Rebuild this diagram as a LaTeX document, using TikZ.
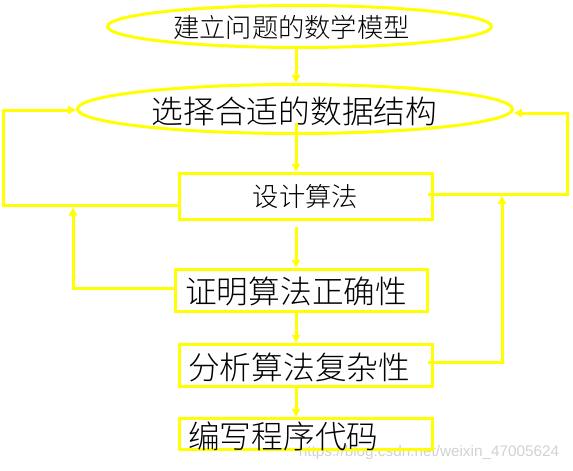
\documentclass[tikz,border=0pt]{standalone}
\usepackage{fontspec}
\newfontfamily\cjk[UprightFont={* Light}]{Noto Sans CJK SC}
\newfontfamily\wmfont{Liberation Sans}
\usetikzlibrary{arrows.meta,shapes.geometric}
\definecolor{ylw}{RGB}{255,255,0}
\definecolor{wmgray}{RGB}{210,210,210}
\begin{document}
\begin{tikzpicture}[x=1pt,y=-1pt,
  oval/.style={ellipse, draw=ylw, line width=3pt, inner sep=0pt},
  stepbox/.style={rectangle, draw=ylw, line width=3.5pt, inner sep=0pt, minimum width=253pt},
  lbl/.style={inner sep=0pt, text=black},
  big/.style={font=\cjk\fontsize{31.7}{32}\selectfont},
  small/.style={font=\cjk\fontsize{26.3}{27}\selectfont},
  conn/.style={draw=ylw, line width=3pt},
  arr/.style={draw=ylw, line width=3pt, -{Triangle[length=8pt,width=8pt]}}]
\useasboundingbox (0,0) rectangle (573,471);
\fill[white] (0,0) rectangle (573,471);

% watermark
\node[inner sep=0pt, text=wmgray, font=\wmfont\fontsize{15.3}{16}\selectfont] (wm) at (429,453) {https://blog.csdn.net/weixin\_47005624};

% shapes
\node[oval, minimum width=384pt, minimum height=42pt] (e1) at (299.5,26.5) {};
\node[oval, minimum width=435pt, minimum height=49pt] (e2) at (295,109) {};
\node[stepbox, minimum height=46pt] (b1) at (306,196.5) {};
\node[stepbox, minimum width=252pt, minimum height=42pt] (b2) at (301.5,290.5) {};
\node[stepbox, minimum height=42pt] (b3) at (306,365.5) {};
\node[stepbox, minimum height=31pt] (b4) at (306,434) {};

% texts
\node[lbl, small] (t1) at (291.5,27.5) {建立问题的数学模型};
\node[lbl, big] (t2) at (294.5,111) {选择合适的数据结构};
\node[lbl, small] (t3) at (305.5,197) {设计算法};
\node[lbl, big, anchor=west] (t4) at (185,291) {证明算法正确性};
\node[lbl, big, anchor=west] (t5) at (188,367) {分析算法复杂性};
\node[lbl, big, anchor=west] (t6) at (188,436) {编写程序代码};

% helper coordinates
\coordinate (ax) at (296,0);
\coordinate (lx) at (3,0);
\coordinate (rx) at (567,0);
\coordinate (lx2) at (73,0);
\coordinate (rx2) at (502,0);

% main down arrows
\draw[arr] (ax |- e1.south) -- (ax |- e2.north);
\draw[arr] (296,123) -- (ax |- b1.north);
\draw[arr] (296,227) -- (ax |- b2.north);
\draw[arr] (ax |- b2.south) -- (ax |- b3.north);
\draw[arr] (ax |- b3.south) -- (ax |- b4.north);

% loops back to e2
\draw[arr] (b1.west |- 0,205) -- (lx |- 0,205) -- (lx |- 0,110) -- (e2.west |- 0,110);
\draw[arr] (428,194) -- (rx |- 0,194) -- (rx |- 0,113) -- (e2.east |- 0,113);

% loops back to b1's side lines
\draw[arr] (b2.west |- 0,288) -- (lx2 |- 0,288) -- (lx2 |- 0,207.5);
\draw[arr] (428,362) -- (rx2 |- 0,362) -- (rx2 |- 0,196);
\end{tikzpicture}
\end{document}
